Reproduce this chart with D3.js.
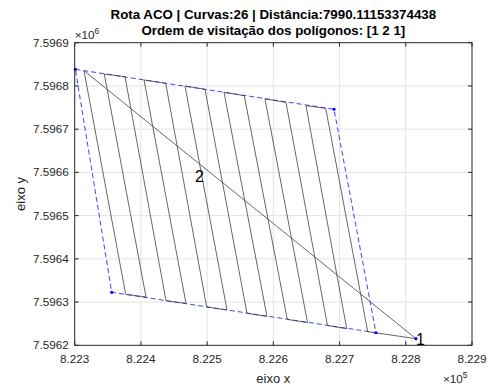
<!DOCTYPE html>
<html>
<head>
<meta charset="utf-8">
<script src="https://cdnjs.cloudflare.com/ajax/libs/d3/7.8.5/d3.min.js"></script>
<style>
  body { margin: 0; background: #fff; }
  svg text { font-family: "Liberation Sans", Arial, Helvetica, sans-serif; fill: #262626; }
</style>
</head>
<body>
<div id="chart"></div>
<script>
// chart values (metres, UTM)
var titleLines = ["Rota ACO | Curvas:26 | Distância:7990.11153374438", "Ordem de visitação dos polígonos: [1 2 1]"];
var xLabel = "eixo x";
var yLabel = "eixo y";
var xTicks = [822300, 822400, 822500, 822600, 822700, 822800, 822900];
var xTickLabels = ["8.223", "8.224", "8.225", "8.226", "8.227", "8.228", "8.229"];
var yTicks = [7596200, 7596300, 7596400, 7596500, 7596600, 7596700, 7596800, 7596900];
var yTickLabels = ["7.5962", "7.5963", "7.5964", "7.5965", "7.5966", "7.5967", "7.5968", "7.5969"];

// polygon 2 outline (blue dashed)
var polyX = [822301, 822691.6, 822755, 822356];
var polyY = [7596838.5, 7596746, 7596229, 7596322.6];

// polygon 1 (single point / depot)
var depotX = 822815.4;
var depotY = 7596215.3;

// sweep line ends on the upper and lower edge
var topX = [822314, 822344.7, 822376, 822404.7, 822437.4, 822466.6, 822496.8, 822525.5, 822556.1, 822587.4, 822619.1, 822649.3, 822679.1];
var topY = [7596835.2, 7596827.6, 7596821.3, 7596813.7, 7596806.1, 7596799.8, 7596792.2, 7596785.3, 7596777.4, 7596769.8, 7596762.1, 7596754.3, 7596748.2];
var bottomX = [822377, 822407.7, 822437.9, 822468.1, 822499.3, 822530, 822560.2, 822590.4, 822621.1, 822651.6, 822681.8, 822710.8, 822742.5];
var bottomY = [7596318, 7596311.7, 7596303.2, 7596296.7, 7596288.6, 7596281.7, 7596273.8, 7596266.9, 7596259.9, 7596252.5, 7596245.6, 7596238.4, 7596231.5];

// polygon labels
var labelNames = ["1", "2"];
var labelX = [822815.4, 822481.7];
var labelY = [7596215.3, 7596591.6];

(function() {
  var width = 489, height = 385;
  var margin = { top: 42.7, right: 17, bottom: 39.7, left: 74.7 };

  var x = d3.scaleLinear().domain([822300, 822900]).range([margin.left, width - margin.right]);
  var y = d3.scaleLinear().domain([7596200, 7596900]).range([height - margin.bottom, margin.top]);

  var svg = d3.select("#chart").append("svg")
    .attr("width", width).attr("height", height);

  // grid
  var grid = svg.append("g").attr("class", "grid")
    .style("stroke", "#e3e3e3").style("stroke-width", 1);
  grid.selectAll(".gx").data(xTicks.slice(1, -1)).enter().append("line")
    .attr("x1", function(d) { return x(d); }).attr("x2", function(d) { return x(d); })
    .attr("y1", y.range()[0]).attr("y2", y.range()[1]);
  grid.selectAll(".gy").data(yTicks.slice(1, -1)).enter().append("line")
    .attr("y1", function(d) { return y(d); }).attr("y2", function(d) { return y(d); })
    .attr("x1", x.range()[0]).attr("x2", x.range()[1]);

  // route: depot -> boustrophedon across polygon 2 -> depot
  var route = [[depotX, depotY]];
  for (var i = 0; i < topX.length; i++) {
    if (i % 2 === 0) {
      route.push([topX[i], topY[i]]);
      route.push([bottomX[i], bottomY[i]]);
    } else {
      route.push([bottomX[i], bottomY[i]]);
      route.push([topX[i], topY[i]]);
    }
  }
  route.push([depotX, depotY]);

  var line = d3.line().x(function(d) { return x(d[0]); }).y(function(d) { return y(d[1]); });

  // polygon outline
  var poly = polyX.map(function(v, k) { return [v, polyY[k]]; });
  poly.push(poly[0]);
  svg.append("path").attr("d", line(poly))
    .style("fill", "none").style("stroke", "#2b2bff").style("stroke-width", 0.9)
    .style("stroke-dasharray", "5,3");

  svg.append("path").attr("d", line(route))
    .style("fill", "none").style("stroke", "#404040").style("stroke-width", 0.8);

  // vertex markers
  var dots = poly.slice(0, -1).concat([[depotX, depotY]]);
  svg.selectAll(".dot").data(dots).enter().append("circle")
    .attr("cx", function(d) { return x(d[0]); }).attr("cy", function(d) { return y(d[1]); })
    .attr("r", 1.6).style("fill", "#0000ff");

  // labels
  svg.selectAll(".lbl").data(labelNames).enter().append("text")
    .attr("x", function(d, k) { return x(labelX[k]); })
    .attr("y", function(d, k) { return y(labelY[k]); })
    .attr("dy", "0.4em")
    .style("font-size", "16px").style("fill", "#000")
    .text(function(d) { return d; });

  // axes box with inward ticks
  var axisColor = "#262626";
  var bx = svg.append("g").style("stroke", axisColor).style("stroke-width", 1).style("fill", "none");
  bx.append("rect")
    .attr("x", x.range()[0]).attr("y", y.range()[1])
    .attr("width", x.range()[1] - x.range()[0]).attr("height", y.range()[0] - y.range()[1]);
  var tl = 4;
  xTicks.forEach(function(t) {
    bx.append("line").attr("x1", x(t)).attr("x2", x(t)).attr("y1", y.range()[0]).attr("y2", y.range()[0] - tl);
    bx.append("line").attr("x1", x(t)).attr("x2", x(t)).attr("y1", y.range()[1]).attr("y2", y.range()[1] + tl);
  });
  yTicks.forEach(function(t) {
    bx.append("line").attr("y1", y(t)).attr("y2", y(t)).attr("x1", x.range()[0]).attr("x2", x.range()[0] + tl);
    bx.append("line").attr("y1", y(t)).attr("y2", y(t)).attr("x1", x.range()[1]).attr("x2", x.range()[1] - tl);
  });

  // tick labels
  svg.selectAll(".xt").data(xTicks).enter().append("text")
    .attr("x", function(d) { return x(d); }).attr("y", y.range()[0] + 18)
    .attr("text-anchor", "middle").style("font-size", "11.7px")
    .text(function(d, k) { return xTickLabels[k]; });
  svg.selectAll(".yt").data(yTicks).enter().append("text")
    .attr("x", x.range()[0] - 6).attr("y", function(d) { return y(d); })
    .attr("dy", "0.35em").attr("text-anchor", "end").style("font-size", "11.7px")
    .text(function(d, k) { return yTickLabels[k]; });

  // exponents
  var ex = svg.append("text").attr("x", x.range()[1] - 29).attr("y", 383).style("font-size", "11.7px");
  ex.append("tspan").text("×10");
  ex.append("tspan").attr("dy", -5).style("font-size", "8.5px").text("5");
  var ey = svg.append("text").attr("x", x.range()[0]).attr("y", 39).style("font-size", "11.7px");
  ey.append("tspan").text("×10");
  ey.append("tspan").attr("dy", -5).style("font-size", "8.5px").text("6");

  // axis titles
  svg.append("text").attr("x", (x.range()[0] + x.range()[1]) / 2).attr("y", 383)
    .attr("text-anchor", "middle").style("font-size", "13px").text(xLabel);
  svg.append("text")
    .attr("transform", "translate(25," + ((y.range()[0] + y.range()[1]) / 2) + ") rotate(-90)")
    .attr("text-anchor", "middle").style("font-size", "13px").text(yLabel);

  // title
  svg.selectAll(".title").data(titleLines).enter().append("text")
    .attr("x", (x.range()[0] + x.range()[1]) / 2)
    .attr("y", function(d, k) { return 19 + k * 16; })
    .attr("text-anchor", "middle").style("font-size", "13.3px").style("font-weight", "bold")
    .style("fill", "#000")
    .text(function(d) { return d; });
})();
</script>
</body>
</html>
